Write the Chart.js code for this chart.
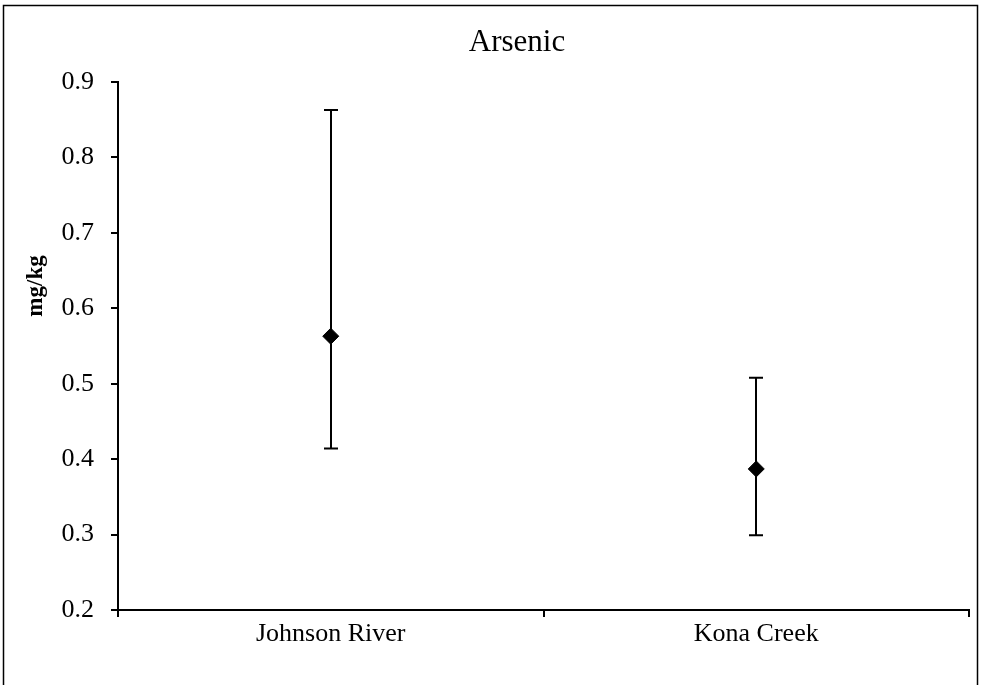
<!DOCTYPE html>
<html>
<head>
<meta charset="utf-8">
<script src="https://cdn.jsdelivr.net/npm/chart.js@4"></script>
<style>
  html, body { margin: 0; padding: 0; background: #fff; }
  #wrap { width: 981px; height: 685px; }
</style>
</head>
<body>
<div id="wrap"><canvas id="arsenic" width="981" height="685"></canvas></div>
<script>
// data
const sites = ["Johnson River", "Kona Creek"];
const means = [0.563, 0.387];
const upper = [0.863, 0.508];
const lower = [0.414, 0.299];
const yTicks = [0.2, 0.3, 0.4, 0.5, 0.6, 0.7, 0.8, 0.9];

const serif = "'Liberation Serif', 'Times New Roman', serif";

// error bars, drawn under the diamonds
const errorBars = {
  id: "errorBars",
  beforeDatasetsDraw(chart) {
    const ctx = chart.ctx;
    const xs = chart.scales.x, ys = chart.scales.y;
    ctx.save();
    ctx.strokeStyle = "#000";
    ctx.lineWidth = 2;
    for (let i = 0; i < sites.length; i++) {
      const x = Math.round(xs.getPixelForValue(i));
      const yt = ys.getPixelForValue(upper[i]);
      const yb = ys.getPixelForValue(lower[i]);
      ctx.beginPath();
      ctx.moveTo(x, yt); ctx.lineTo(x, yb);
      ctx.moveTo(x - 7, yt); ctx.lineTo(x + 7, yt);
      ctx.moveTo(x - 7, yb); ctx.lineTo(x + 7, yb);
      ctx.stroke();
    }
    ctx.restore();
  }
};

// frame, title and y axis label (placed like the original, off-centre)
const decor = {
  id: "decor",
  afterDraw(chart) {
    const ctx = chart.ctx;
    ctx.save();
    ctx.strokeStyle = "#000";
    ctx.lineWidth = 1.5;
    ctx.strokeRect(3.5, 5.5, 974, 700);

    ctx.fillStyle = "#000";
    ctx.textAlign = "center";
    ctx.textBaseline = "alphabetic";
    ctx.font = "31px " + serif;
    ctx.fillText("Arsenic", 517, 51);

    ctx.translate(42, 286);
    ctx.rotate(-Math.PI / 2);
    ctx.font = "bold 23px " + serif;
    ctx.fillText("mg/kg", 0, 0);
    ctx.restore();
  }
};

new Chart("arsenic", {
  type: "line",
  data: {
    labels: sites,
    datasets: [{
      data: means,
      showLine: false,
      pointStyle: "rectRot",
      pointRadius: 8,
      pointHoverRadius: 8,
      backgroundColor: "#000",
      borderColor: "#000",
      borderWidth: 1
    }]
  },
  options: {
    responsive: false,
    animation: false,
    layout: { padding: { left: 0, right: 12, top: 82, bottom: 0 } },
    plugins: {
      legend: { display: false },
      tooltip: { enabled: false },
      title: { display: false }
    },
    scales: {
      x: {
        offset: true,
        grid: { offset: true, drawOnChartArea: false, tickLength: 7, color: "#000", lineWidth: 2 },
        border: { color: "#000", width: 2 },
        ticks: { color: "#000", font: { family: serif, size: 26 }, padding: 2 },
        afterFit(s) { s.height = 75; }
      },
      y: {
        min: 0.2,
        max: 0.9,
        afterBuildTicks(s) { s.ticks = yTicks.map(v => ({ value: v })); },
        grid: { drawOnChartArea: false, tickLength: 7, color: "#000", lineWidth: 2 },
        border: { color: "#000", width: 2 },
        ticks: {
          color: "#000",
          font: { family: serif, size: 26 },
          padding: 17,
          callback: v => v.toFixed(1)
        },
        afterFit(s) { s.width = 118; }
      }
    }
  },
  plugins: [errorBars, decor]
});
</script>
</body>
</html>
